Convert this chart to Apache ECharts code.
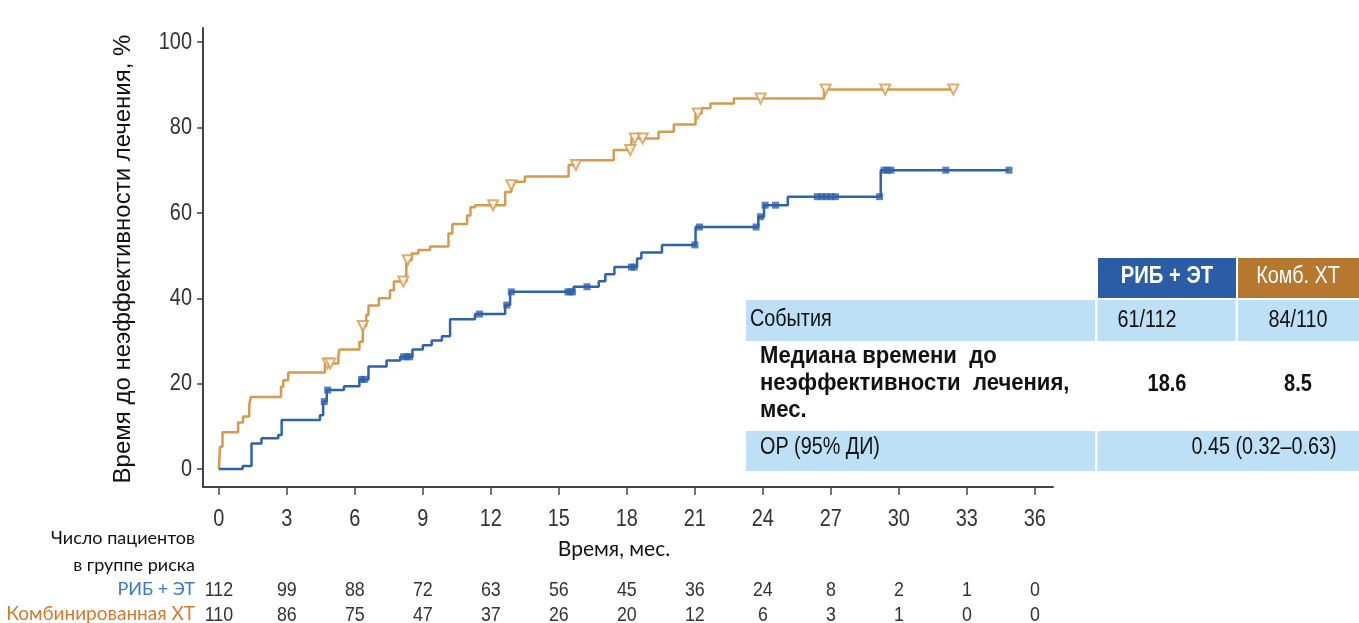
<!DOCTYPE html>
<html><head><meta charset="utf-8">
<script src="https://cdn.jsdelivr.net/npm/echarts@6/dist/echarts.min.js"></script>
<style>html,body{margin:0;padding:0;background:#fff}#c{width:1359px;height:623px}</style>
</head><body><div id="c"></div>
<script>
// ---- data ----
const months = [0,3,6,9,12,15,18,21,24,27,30,33,36];
const yTicks = [0,20,40,60,80,100];
const ribRisk = [112,99,88,72,63,56,45,36,24,8,2,1,0];
const chemoRisk = [110,86,75,47,37,26,20,12,6,3,1,0,0];

const ribTimes  = [0,1.05,1.44,1.88,2.62,2.77,4.46,4.6,4.76,5.52,6.2,6.6,7.4,8.0,8.54,9.0,9.39,9.84,10.2,11.3,12.63,12.85,15.65,16.76,17.05,17.45,18.45,18.64,19.55,21.03,23.8,24.05,25.1,29.2,34.86];
const ribValues = [0,0.7,6.0,7.2,8.0,11.5,12.6,15.8,18.5,19.4,21.0,24.0,25.4,26.3,28.0,29.0,30.1,31.1,35.1,36.3,38.4,41.5,42.7,44.0,45.6,47.3,49.3,50.7,52.5,56.7,59.1,61.8,63.8,70.0,70.0];
const ribCensor = [4.65,4.8,6.3,6.42,8.15,8.3,8.42,11.5,12.7,12.9,15.4,15.5,15.6,16.24,18.2,18.32,21.0,21.2,23.7,23.9,24.1,24.56,26.4,26.6,26.8,27.0,27.2,29.15,29.35,29.5,29.65,32.07,34.86];

const chemoTimes  = [0,0.05,0.16,0.85,1.07,1.34,1.41,2.74,2.84,3.06,4.68,5.27,5.32,6.2,6.35,6.5,6.6,7.06,7.55,7.72,8.27,8.32,8.5,8.8,9.32,10.13,10.3,10.95,11.1,11.3,12.63,12.9,13.0,13.5,15.43,15.8,17.42,18.2,19.4,20.07,21.03,21.3,21.69,22.72,26.7,32.4];
const chemoValues = [0,5.2,8.6,10.9,12.3,15.0,16.9,19.3,20.8,22.6,24.7,26.3,28.0,29.8,33.5,36.1,38.3,40.0,41.9,43.9,48.0,48.9,50.5,51.3,52.1,55.2,57.4,59.4,61.3,61.8,64.9,66.5,67.3,68.5,71.2,72.3,74.7,77.4,79.0,80.7,83.3,84.5,85.6,86.8,88.9,88.9];
const chemoCensor = [4.8,4.92,6.35,8.14,8.33,12.1,12.9,15.75,18.15,18.35,18.7,21.13,23.9,26.77,29.4,32.4];

const groupNames = ['РИБ + ЭТ','Комб. ХТ'];
const eventsRow = ['События','61/112','84/110'];
const medianLabel = ['Медиана времени  до','неэффективности  лечения,','мес.'];
const medianValues = ['18.6','8.5'];
const hrRow = ['ОР (95% ДИ)','0.45 (0.32–0.63)'];
const riskGroupLabels = ['РИБ + ЭТ','Комбинированная ХТ'];

// ---- helpers ----
function stepValue(times, values, t){
  let v = values[0];
  for (let i=0;i<times.length;i++){ if (times[i] <= t + 1e-9) v = values[i]; }
  return v;
}
const BLUE = '#2e62ad', ORANGE = '#d69a4c';
const ARIAL = '"Liberation Sans",Arial,sans-serif';
const CAL = 'Lato,"Open Sans",sans-serif';

const chart = echarts.init(document.getElementById('c'), null, {renderer:'canvas'});
const option = {
  animation:false,
  backgroundColor:'#fff',
  grid:{left:203, right:306, top:28, bottom:136, containLabel:false},
  xAxis:{type:'value', min:-0.7, max:36.8,
    axisLine:{show:true, onZero:false, lineStyle:{color:'#444', width:2}},
    axisTick:{show:true, length:8, lineStyle:{color:'#444', width:1.5}, customValues:months},
    axisLabel:{show:false},
    splitLine:{show:false}},
  yAxis:{type:'value', min:-4.2, max:103.3,
    axisLine:{show:true, onZero:false, lineStyle:{color:'#444', width:2}},
    axisTick:{show:true, length:6, lineStyle:{color:'#444', width:1.5}, customValues:yTicks},
    axisLabel:{show:false},
    splitLine:{show:false}},
  series:[
    {type:'line', step:'end', showSymbol:false, data:chemoTimes.map((t,i)=>[t,chemoValues[i]]),
      lineStyle:{color:ORANGE, width:2.5}, z:2},
    {type:'line', step:'end', showSymbol:false, data:ribTimes.map((t,i)=>[t,ribValues[i]]),
      lineStyle:{color:BLUE, width:2.5}, z:2},
    {type:'scatter', symbol:'triangle', symbolRotate:180, symbolSize:10,
      data:chemoCensor.map(t=>[t, stepValue(chemoTimes, chemoValues, t)]),
      itemStyle:{color:'#fff', borderColor:ORANGE, borderWidth:2}, z:3},
    {type:'scatter', symbol:'rect', symbolSize:7,
      data:ribCensor.map(t=>[t, stepValue(ribTimes, ribValues, t)]),
      itemStyle:{color:BLUE}, z:3}
  ]
};
chart.setOption(option);

// ---- graphics: tick labels, titles, risk table, summary table ----
const els = [];
const T = (x,y,text,size,weight,fill,align,sx,family,z)=>els.push({type:'text', x, y, scaleX:sx||1, z:z||12,
  style:{text, font:(weight?weight+' ':'')+size+'px '+(family||ARIAL), fill, textAlign:align||'left', textVerticalAlign:'middle'}});

// axis tick labels (positions from the axis scales)
yTicks.forEach(v=>{
  const py = chart.convertToPixel({yAxisIndex:0}, v);
  T(192, py, String(v), 24, '', '#333', 'right', 0.83);
});
months.forEach((m,i)=>{
  const px = chart.convertToPixel({xAxisIndex:0}, m);
  T(px, 519, String(m), 24, '', '#333', 'center', 0.83);
  T(px, 590, String(ribRisk[i]), 21, '', '#333', 'center', 0.85);
  T(px, 615, String(chemoRisk[i]), 21, '', '#333', 'center', 0.85);
});

els.push({type:'text', x:123, y:259, rotation:Math.PI/2,
  style:{text:'Время до неэффективности лечения, %', font:'24px '+ARIAL, fill:'#111', textAlign:'center', textVerticalAlign:'middle'}});
T(614, 549, 'Время, мес.', 21, '', '#111', 'center', 1, CAL);
T(195, 538, 'Число пациентов', 18, '', '#111', 'right', 1, CAL);
T(195, 565, 'в группе риска', 18, '', '#111', 'right', 1, CAL);
T(195, 589, riskGroupLabels[0], 18, '', '#3a78d0', 'right', 1, CAL);
T(195, 614, riskGroupLabels[1], 19, '', '#d57a2c', 'right', 1, CAL);

// summary table
const LB = '#bde0f7';
els.push({type:'rect', shape:{x:1098,y:258,width:138,height:40}, style:{fill:'#2b5ca6'}, z:10});
els.push({type:'rect', shape:{x:1238,y:258,width:121,height:40}, style:{fill:'#b5782e'}, z:10});
els.push({type:'rect', shape:{x:746,y:300,width:613,height:41}, style:{fill:LB}, z:10});
els.push({type:'rect', shape:{x:746,y:341,width:613,height:90}, style:{fill:'#fff'}, z:10});
els.push({type:'rect', shape:{x:746,y:431,width:613,height:40}, style:{fill:LB}, z:10});
els.push({type:'rect', shape:{x:1095,y:300,width:2.5,height:171}, style:{fill:'#fff'}, z:11});
els.push({type:'rect', shape:{x:1235.5,y:300,width:2.5,height:41}, style:{fill:'#fff'}, z:11});
T(1167,277,groupNames[0],23,'bold','#fff','center',0.88);
T(1298,277,groupNames[1],23,'','#fff','center',0.86);
T(750,320,eventsRow[0],23,'','#111','left',0.86);
T(1147,321,eventsRow[1],23,'','#111','center',0.86);
T(1298,321,eventsRow[2],23,'','#111','center',0.86);
T(760,357,medianLabel[0],23,'bold','#111','left',0.96);
T(760,384,medianLabel[1],23,'bold','#111','left',0.96);
T(760,411,medianLabel[2],23,'bold','#111','left',0.96);
T(1167,385,medianValues[0],23,'bold','#111','center',0.87);
T(1298,385,medianValues[1],23,'bold','#111','center',0.87);
T(760,448,hrRow[0],23,'','#111','left',0.86);
T(1264,448,hrRow[1],23,'','#111','center',0.86);

chart.setOption({graphic:{elements:els}});
</script></body></html>
